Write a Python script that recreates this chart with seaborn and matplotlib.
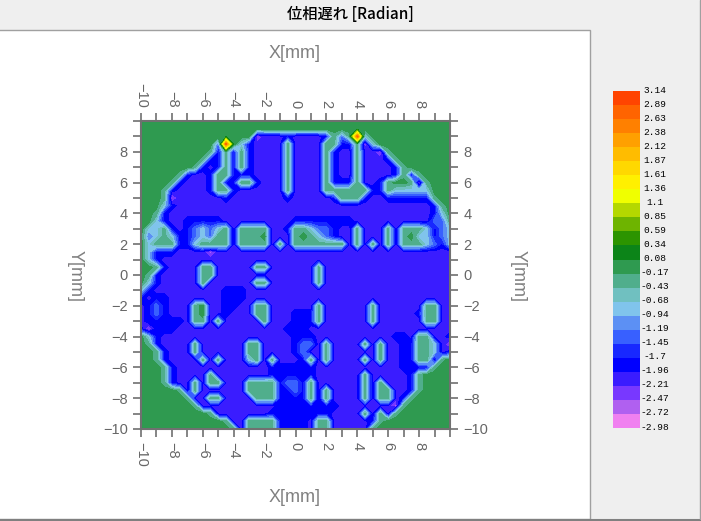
import numpy as np
import matplotlib
matplotlib.use("Agg")
import matplotlib.pyplot as plt
from matplotlib.patches import Rectangle
from matplotlib.ticker import MultipleLocator
import seaborn as sns

sns.set_theme(style="white")
plt.rcParams['font.family'] = ['Liberation Sans', 'DejaVu Sans']

TITLE = "位相遅れ [Radian]"
LEVEL_LABELS = ["3.14","2.89","2.63","2.38","2.12","1.87","1.61","1.36","1.1","0.85","0.59","0.34","0.08",
                "-0.17","-0.43","-0.68","-0.94","-1.19","-1.45","-1.7","-1.96","-2.21","-2.47","-2.72","-2.98"]
BAND_COLORS = ["#FF4400","#FF6400","#FF8000","#FFA000","#FFBC00","#FFD800","#FFF000","#F0FF00",
               "#B4D800","#6EB400","#2C9400","#0C8418","#2F9A50","#50AE8C","#70C0C0","#80C4EC",
               "#5C90F4","#3860FF","#1828FF","#0000FF","#3A1CFF","#7838FF","#B060F0","#F080F0"]
TICKS = [-10,-8,-6,-4,-2,0,2,4,6,8,10]
TICK_LABELS = ["\u221210","\u22128","\u22126","\u22124","\u22122","0","2","4","6","8",""]
AXIS_X = [-10 + 0.5*i for i in range(41)]
AXIS_Y = [10 - 0.5*i for i in range(41)]
CODE_VALUES = {'.':-0.05,'G':-0.05,'g':-0.3,'c':-0.8,'b':-1.3,'+':-1.8,'#':-2.1,'v':-2.6,'R':2.7}

PHASE_ROWS = [
".........................................",
".........................................",
"...............v###+####+gbgRc...........",
"..........bR.c+####g####gg++gvc..........",
".........g+g+g+####g####g+##g##vg........",
"........g++g+g+####g####g+##g###+g.......",
".......g+#+g+g+####g####g+##g####+g......",
".....g+##+gg+++####g####g+##g####+g+g....",
"....g+###+g++gg+###g####g+++g##+g..gvg...",
"...g+####+gg+######g####gggggg++gccccc...",
"...gv######+#######+#####+ggg+##++++++g..",
"...c+#################################+g.",
"..g+##################################+c.",
"..c+##+++++#########++++++++##########bbg",
".ccg+#+bcbcg#gggg##+ggcbb+##g###g#gggc+bc",
".bcgc++bcbgg#gggG###gGgcb+##g###g#gGcc+bc",
".cggg++cgggg#gggg#g#ggggggg#g#g#g#gggcb+c",
".c+++####v###############################",
".c+######################################",
"..g+####gg#####gg######g#################",
".g+#####gg#############g#################",
".c+#####g######gg######g#################",
"c+#########+++###########################",
"+#++#######+++###########################",
"#+b+###gG##++##gg######g######g######gg##",
"#+b+###gG##+###gg###+++g######g#####+gg##",
"#+++++#gg#g#####g###+++g######g######gg##",
"+v+++##############+++###################",
".c+#################+++##########++#gg##+",
".g+####g######gg####+bb#g####g#g##++ggc#v",
"..g+###g######gg####+b##g######g##++ggc#+",
"..g+####g#g###cg#g###+g#g####g#g##++gg#g.",
"...g+############++++++###########++++g..",
"...g+####g#######++++++######g#####+g....",
"...g+##g#gg###gggg+bb+g######g#g###+g....",
".....g#g######gggg++b+g#g####g#gg##+g....",
"......g##gg####ggg++++g#g####g#gg#+g.....",
".......g##########++++++++#######vg......",
".........g#######++++++++####g#g#g.......",
"...........g##gggg++++#gg#####+g.........",
"............g#gggg++++#gg#####g..........",
]

W, H = 701, 521
BG = "#EFEFEF"
fig = plt.figure(figsize=(W/100, H/100), dpi=100, facecolor=BG)

def rect(x0, y0, x1, y1):
    return [x0/W, 1 - y1/H, (x1-x0)/W, (y1-y0)/H]

# window panels
fig.add_artist(Rectangle((-2/W, 1-519/H), 592/W, (519-30)/H, transform=fig.transFigure,
                         facecolor="white", edgecolor="#A0A0A0", linewidth=1.0, zorder=-2))
fig.add_artist(plt.Line2D([0, 1], [1-519.5/H]*2, color="#808080", linewidth=1.5, zorder=-1))
fig.add_artist(plt.Line2D([699.5/W]*2, [1-519/H, 1], color="#A0A0A0", linewidth=1.0, zorder=-1))

ax = fig.add_axes(rect(141, 121, 450, 429), facecolor="white")
levels = np.array([float(s) for s in LEVEL_LABELS[::-1]])
Z = np.array([[CODE_VALUES[c] for c in row] for row in PHASE_ROWS])
ax.contourf(AXIS_X, AXIS_Y, Z, levels=levels, colors=BAND_COLORS[::-1], antialiased=False)
ax.set_xlim(-10, 10)
ax.set_ylim(-10, 10)

GRAY = "#707070"
for s in ax.spines.values():
    s.set_visible(True)
    s.set_color(GRAY)
    s.set_linewidth(1.5)
ax.set_xticks(TICKS)
ax.set_yticks(TICKS)
ax.xaxis.set_minor_locator(MultipleLocator(1))
ax.yaxis.set_minor_locator(MultipleLocator(1))
ax.set_xticklabels(TICK_LABELS)
ax.set_yticklabels(TICK_LABELS)
ax.tick_params(axis="both", which="both", direction="out", length=6, width=1.2, color=GRAY,
               top=True, bottom=True, left=True, right=True,
               labeltop=True, labelbottom=True, labelleft=True, labelright=True,
               labelsize=10.5, labelcolor="#666666", pad=3.5)
for tk in ax.xaxis.get_major_ticks():
    tk.label1.set_rotation(-90)
    tk.label2.set_rotation(-90)

TXT = "#808080"
fig.text(295/W, 1-53/H, "X[mm]", ha="center", va="center", fontsize=13, color=TXT)
fig.text(295/W, 1-497/H, "X[mm]", ha="center", va="center", fontsize=13, color=TXT)
fig.text(75/W, 1-276/H, "Y[mm]", ha="center", va="center", fontsize=13, color=TXT, rotation=-90)
fig.text(518/W, 1-276/H, "Y[mm]", ha="center", va="center", fontsize=13, color=TXT, rotation=-90)
fig.text(350/W, 1-14/H, TITLE, ha="center", va="center", fontsize=11, color="black",
         family=['Noto Sans CJK JP', 'DejaVu Sans'], fontweight="medium")

# colour key drawn with seaborn
cax = fig.add_axes(rect(613, 91, 640, 428))
sns.heatmap(np.arange(len(BAND_COLORS))[:, None], cmap=BAND_COLORS, cbar=False, ax=cax,
            xticklabels=False, yticklabels=False, linewidths=0)
cax.set_yticks([])
for i, lab in enumerate(LEVEL_LABELS):
    cax.text(1.55, i - 0.07, lab, ha="center", va="center", fontsize=6.8,
             color="black", family="Liberation Mono", clip_on=False)

fig.savefig("out.png", dpi=100, facecolor=BG)
